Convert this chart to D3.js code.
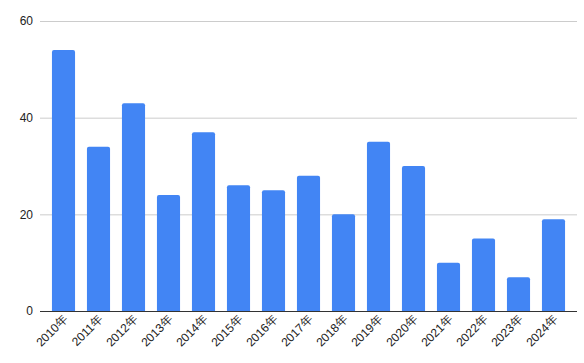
<!DOCTYPE html>
<html>
<head>
<meta charset="utf-8">
<script src="https://cdn.jsdelivr.net/npm/d3@7"></script>
<style>
  body { margin: 0; background: #fff; }
  text { font-family: "Liberation Sans", Arial, sans-serif; }
</style>
</head>
<body>
<svg id="chart" width="584" height="363"></svg>
<script>
var years = ['2010年', '2011年', '2012年', '2013年', '2014年', '2015年', '2016年', '2017年',
  '2018年', '2019年', '2020年', '2021年', '2022年', '2023年', '2024年'];
var counts = [54, 34, 43, 24, 37, 26, 25, 28, 20, 35, 30, 10, 15, 7, 19];
var yTicks = [0, 20, 40, 60];

var svg = d3.select('#chart');
var plotLeft = 40, plotRight = 577;

var x = d3.scaleBand()
  .domain(years)
  .range([46, 571])
  .paddingInner(0.34)
  .paddingOuter(0.17);

var y = d3.scaleLinear()
  .domain([0, 60])
  .range([311, 21]);

// gridlines
svg.append('g')
  .selectAll('line')
  .data(yTicks.filter(function(d) { return d !== 0; }))
  .enter()
  .append('line')
  .attr('x1', plotLeft)
  .attr('x2', plotRight)
  .attr('y1', function(d) { return y(d) + 0.5; })
  .attr('y2', function(d) { return y(d) + 0.5; })
  .attr('stroke', '#cccccc')
  .attr('stroke-width', 1);

// y labels
svg.append('g')
  .selectAll('text')
  .data(yTicks)
  .enter()
  .append('text')
  .attr('x', 33)
  .attr('y', function(d) { return y(d); })
  .attr('dy', '0.35em')
  .attr('text-anchor', 'end')
  .attr('font-size', 12)
  .attr('fill', '#222')
  .text(function(d) { return d; });

// bars, rounded on top only
var r = 2;
svg.append('g')
  .selectAll('path')
  .data(counts)
  .enter()
  .append('path')
  .attr('fill', '#4285f4')
  .attr('d', function(d, i) {
    var x0 = x(years[i]), w = x.bandwidth();
    var top = y(d), bottom = y(0);
    return 'M' + x0 + ',' + bottom +
      'V' + (top + r) +
      'Q' + x0 + ',' + top + ' ' + (x0 + r) + ',' + top +
      'H' + (x0 + w - r) +
      'Q' + (x0 + w) + ',' + top + ' ' + (x0 + w) + ',' + (top + r) +
      'V' + bottom + 'Z';
  });

// baseline
svg.append('line')
  .attr('x1', plotLeft)
  .attr('x2', plotRight)
  .attr('y1', y(0) + 0.5)
  .attr('y2', y(0) + 0.5)
  .attr('stroke', '#333')
  .attr('stroke-width', 1);

// x labels, rotated
svg.append('g')
  .selectAll('text')
  .data(years)
  .enter()
  .append('text')
  .attr('transform', function(d) {
    var cx = x(d) + x.bandwidth() / 2 + 5;
    return 'translate(' + cx + ',' + 320 + ') rotate(-45)';
  })
  .attr('text-anchor', 'end')
  .attr('font-size', 12)
  .attr('fill', '#222')
  .text(function(d) { return d; });
</script>
</body>
</html>
